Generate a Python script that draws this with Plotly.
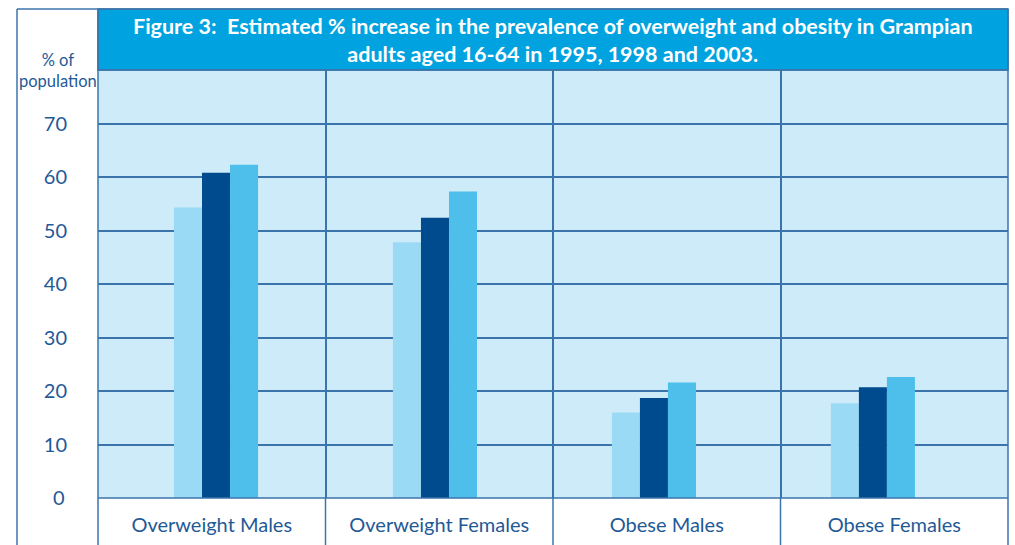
import plotly.graph_objects as go

CATEGORIES = ["Overweight Males", "Overweight Females", "Obese Males", "Obese Females"]
YEARS = ["1995", "1998", "2003"]
VALUES_1995 = [54.3, 47.8, 16.0, 17.7]
VALUES_1998 = [60.8, 52.4, 18.7, 20.7]
VALUES_2003 = [62.3, 57.3, 21.6, 22.6]
TICK_VALUES = [0, 10, 20, 30, 40, 50, 60, 70]
TICK_LABELS = ["0\u2009", "10", "20", "30", "40", "50", "60", "70"]

TITLE = ("Figure 3:  Estimated % increase in the prevalence of overweight and obesity in Grampian<br>"
         "adults aged 16-64 in 1995, 1998 and 2003.")

W, H = 1015, 545
COLORS = ["#9BDAF4", "#004B8D", "#4DBFEA"]
LINE = "#3A74AB"
TEXT = "#1F5A96"
FONT = "Lato"

def px(x):
    return x / W

def py(y):
    return 1 - y / H

PL, PR, PT, PB = 98, 1008, 70, 498

fig = go.Figure()
for name, vals, col in zip(YEARS, [VALUES_1995, VALUES_1998, VALUES_2003], COLORS):
    fig.add_trace(go.Bar(x=CATEGORIES, y=vals, name=name, marker_color=col,
                         marker_line_width=0, showlegend=False, xaxis="x", yaxis="y"))
# invisible trace defining the label / divider axis
fig.add_trace(go.Scatter(x=CATEGORIES, y=[None] * len(CATEGORIES), xaxis="x2", yaxis="y",
                         showlegend=False, hoverinfo="skip", mode="markers"))

fig.update_layout(
    width=W, height=H,
    margin=dict(l=0, r=0, t=0, b=0, autoexpand=False),
    paper_bgcolor="white",
    plot_bgcolor="#CDEBF9",
    barmode="group",
    bargap=0.616,
    bargroupgap=0,
    font=dict(family=FONT, color=TEXT),
    xaxis=dict(domain=[px(PL), px(PR)], range=[-0.539, 3.617], showticklabels=False,
               showgrid=False, ticks="", showline=False, zeroline=False, automargin=False,
               categoryorder="array", categoryarray=CATEGORIES),
    xaxis2=dict(overlaying="x", anchor="y", side="bottom", range=[-0.5, 3.5],
                categoryorder="array", categoryarray=CATEGORIES,
                tickson="boundaries", showgrid=True, gridcolor=LINE, gridwidth=1.5,
                ticks="", tickfont=dict(size=20, color=TEXT), ticklabelstandoff=13,
                showline=False, zeroline=False, automargin=False),
    yaxis=dict(domain=[py(PB), py(PT)], range=[0, 80], tickvals=TICK_VALUES,
               ticktext=TICK_LABELS, showgrid=True, gridcolor=LINE, gridwidth=1.5,
               tickfont=dict(size=20, color=TEXT), ticks="", ticklabelstandoff=30,
               zeroline=False, showline=False, automargin=False),
)

shapes = []
# title box
shapes.append(dict(type="rect", xref="paper", yref="paper", x0=px(PL), x1=px(PR),
                   y0=py(PT), y1=py(9), fillcolor="#00A3E0",
                   line=dict(color=LINE, width=1.5), layer="above"))
# frames
for (x0, y0, x1, y1) in [(17, 9, PR, 9), (17, 9, 17, H), (PL, 9, PL, H), (PR, 9, PR, H),
                         (PL, PB, PR, PB), (PL, PT, PR, PT)]:
    shapes.append(dict(type="line", xref="paper", yref="paper", x0=px(x0), x1=px(x1),
                       y0=py(y0), y1=py(y1), line=dict(color=LINE, width=1.5), layer="above"))
# divider extensions below the plot, at category boundaries
for b in [0.5, 1.5, 2.5]:
    shapes.append(dict(type="line", xref="x2", yref="paper", x0=b, x1=b,
                       y0=0, y1=py(PB), line=dict(color=LINE, width=1.5), layer="above"))
fig.update_layout(shapes=shapes)

fig.add_annotation(xref="paper", yref="paper", x=px((PL + PR) / 2), y=py(40.5),
                   text="<b>" + TITLE + "</b>", showarrow=False,
                   font=dict(size=21.5, color="white", family=FONT),
                   xanchor="center", yanchor="middle", align="center")
fig.add_annotation(xref="paper", yref="paper", x=px(57.5), y=py(70),
                   text="% of<br>population", showarrow=False,
                   font=dict(size=16.5, color=TEXT, family=FONT),
                   xanchor="center", yanchor="middle", align="center")

fig.write_html("out.html")
